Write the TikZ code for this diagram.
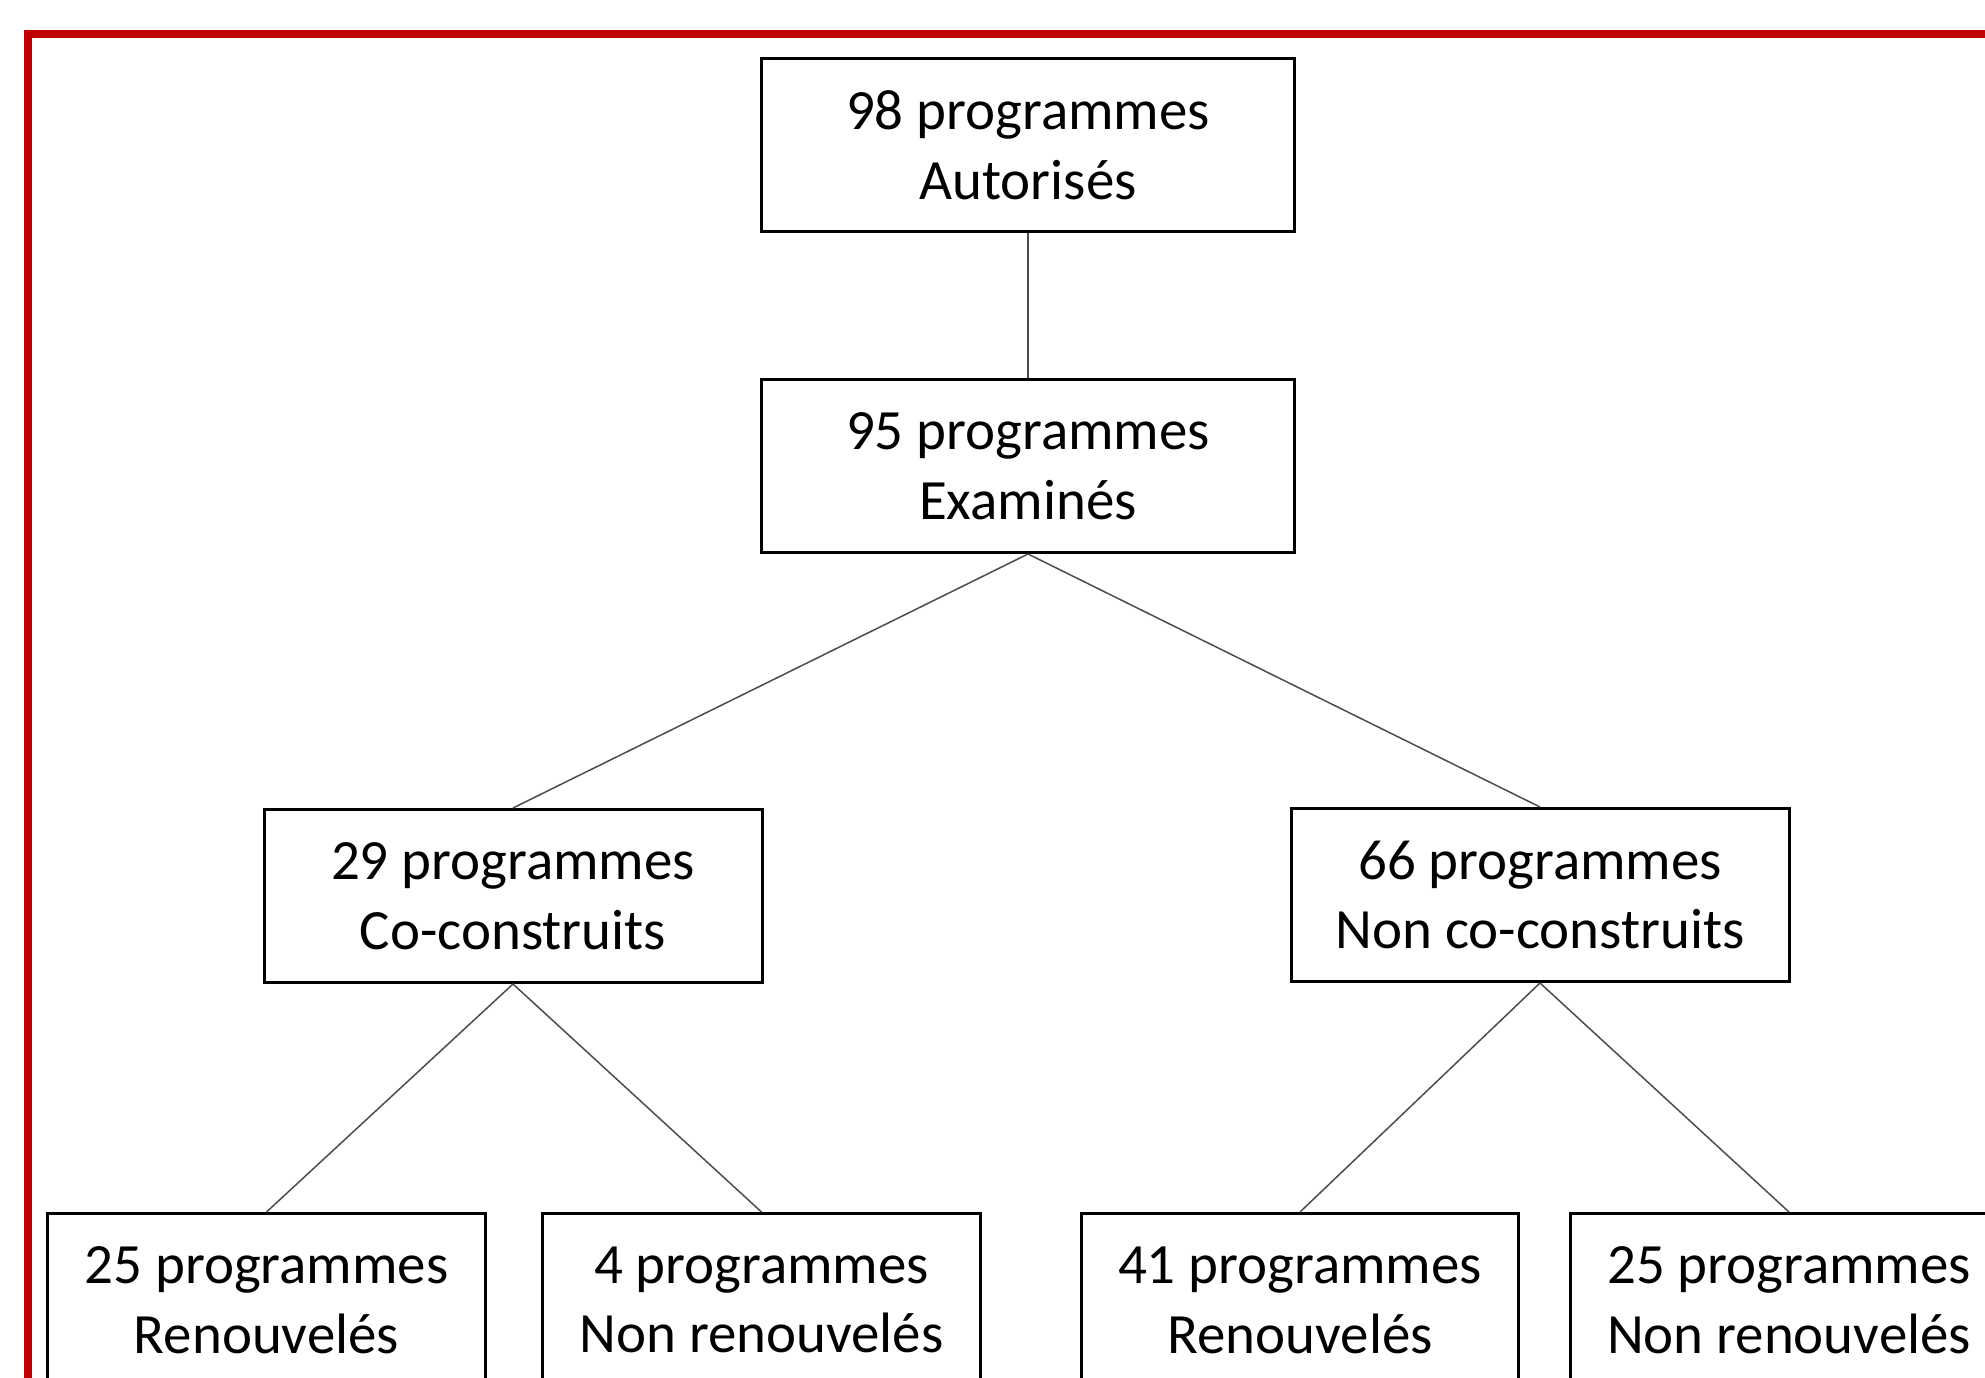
\documentclass[tikz,border=0pt]{standalone}
\usepackage{fontspec}
\setmainfont{Carlito}
\definecolor{cadre}{HTML}{C00000}

\begin{document}
\begin{tikzpicture}[box/.style={draw,line width=0.06cm,align=center,inner sep=0pt,minimum height=3.46cm,font=\fontsize{32.4}{39.7}\selectfont},
                    link/.style={draw=black!70,line width=0.03cm}]

    \useasboundingbox (0,0) rectangle (39.7,-27.54);
    \clip (0,0) rectangle (39.7,-27.54);
    \draw[cadre,line width=0.16cm] (0.56,-0.68) rectangle (45,-35);

    \node[box,minimum width=10.66cm]   (aut) at (20.56, -2.90)   {98 programmes\\Autorisés};
    \node[box,minimum width=10.66cm]   (exa) at (20.56, -9.32)   {95 programmes\\Examinés};
    \node[box,minimum width=9.96cm]    (co)  at (10.26, -17.92)  {29 programmes\\Co-construits};
    \node[box,minimum width=9.96cm]    (nco) at (30.80, -17.90)  {66 programmes\\Non co-construits};
    \node[box,minimum width=8.75cm]    (cr)  at (5.33, -26.0)    {25 programmes\\Renouvelés};
    \node[box,minimum width=8.75cm]    (cn)  at (15.23, -26.0)   {4 programmes\\Non renouvelés};
    \node[box,minimum width=8.75cm]    (ncr) at (26.0, -26.0)    {41 programmes\\Renouvelés};
    \node[box,minimum width=8.75cm]    (ncn) at (35.78, -26.0)   {25 programmes\\Non renouvelés};


    \draw (aut.south) edge[link] (exa.north);
    \draw (exa.south) edge[link] (co.north);
    \draw (exa.south) edge[link] (nco.north);
    \draw (co.south)  edge[link] (cr.north);
    \draw (co.south)  edge[link] (cn.north);
    \draw (nco.south) edge[link] (ncr.north);
    \draw (nco.south) edge[link] (ncn.north);
  \end{tikzpicture}
\end{document}
